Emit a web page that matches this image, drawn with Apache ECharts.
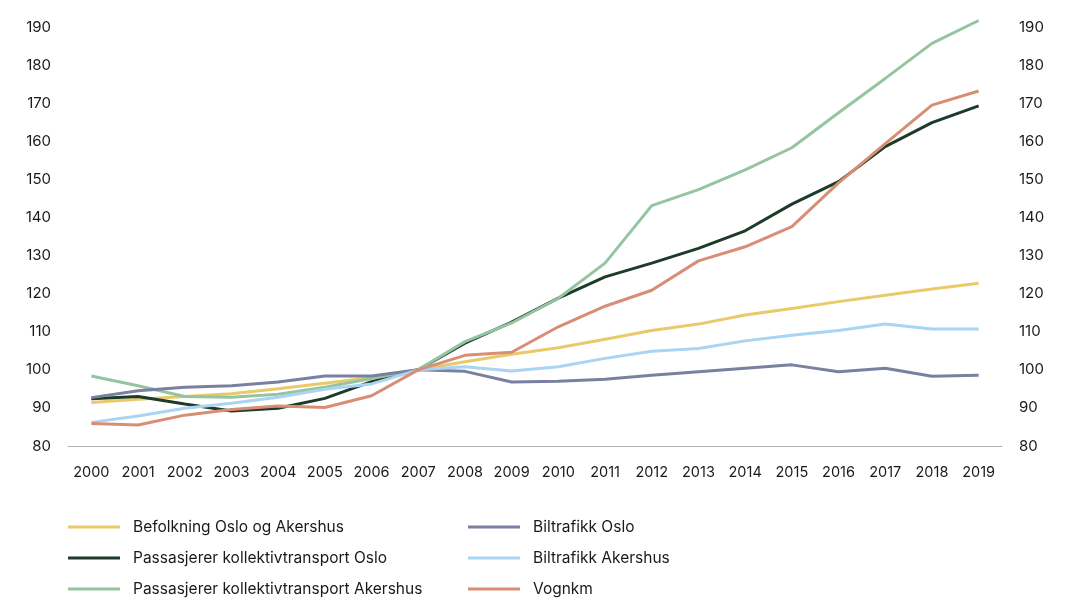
<!DOCTYPE html>
<html>
<head>
<meta charset="utf-8">
<script src="https://cdn.jsdelivr.net/npm/echarts@6/dist/echarts.min.js"></script>
<style>
  html, body { margin: 0; padding: 0; background: #fff; }
  #chart { width: 1080px; height: 608px; }
</style>
</head>
<body>
<div id="chart"></div>
<script>
const years = [
  "2000", "2001", "2002", "2003", "2004", "2005", "2006", "2007", "2008", "2009",
  "2010", "2011", "2012", "2013", "2014", "2015", "2016", "2017", "2018", "2019",
];

// Indeks, 2007 = 100
const befolkning = [
  91.4, 92.3, 93.0, 93.7, 95.0, 96.5, 98.0, 100, 102.1, 104.1,
  105.8, 108.0, 110.3, 112.0, 114.4, 116.1, 117.9, 119.6, 121.2, 122.7,
];
const passOslo = [
  92.4, 93.0, 91.0, 89.2, 89.9, 92.5, 96.9, 100, 107.0, 112.5,
  118.8, 124.4, 128.0, 131.9, 136.5, 143.5, 149.4, 158.6, 164.9, 169.3,
];
const passAkershus = [
  98.4, 95.8, 93.0, 92.8, 93.6, 95.4, 97.7, 100, 107.4, 112.3,
  118.8, 128.0, 143.1, 147.3, 152.5, 158.3, 167.5, 176.5, 185.7, 191.7,
];
const biltrafikkOslo = [
  92.7, 94.5, 95.4, 95.8, 96.8, 98.4, 98.4, 100, 99.6, 96.8,
  97.0, 97.5, 98.6, 99.5, 100.4, 101.3, 99.5, 100.4, 98.3, 98.6,
];
const biltrafikkAkershus = [
  86.2, 87.9, 89.9, 91.2, 92.8, 94.9, 96.3, 100, 100.8, 99.7,
  100.8, 103.0, 104.9, 105.6, 107.6, 109.1, 110.3, 112.0, 110.7, 110.7,
];
const vognkm = [
  85.9, 85.5, 88.1, 89.6, 90.5, 90.1, 93.2, 100, 103.8, 104.6,
  111.3, 116.7, 120.9, 128.6, 132.3, 137.6, 149.1, 159.4, 169.5, 173.2,
];

const names = [
  "Befolkning Oslo og Akershus",
  "Passasjerer kollektivtransport Oslo",
  "Passasjerer kollektivtransport Akershus",
  "Biltrafikk Oslo",
  "Biltrafikk Akershus",
  "Vognkm",
];
const colors = ["#E8CA6A", "#1E3B29", "#94C5A0", "#7A809F", "#AAD4F3", "#D98D74"];
const values = [befolkning, passOslo, passAkershus, biltrafikkOslo, biltrafikkAkershus, vognkm];

const fontFamily = "Inter, 'Noto Sans', sans-serif";
const textColor = "#1a1a1a";

const chart = echarts.init(document.getElementById("chart"));

const valueAxis = (pos) => ({
  type: "value",
  position: pos,
  min: 80,
  max: 190,
  interval: 10,
  axisLine: { show: false },
  axisTick: { show: false },
  splitLine: { show: false },
  axisLabel: { color: textColor, fontSize: 15, fontFamily: fontFamily, margin: 17 },
});

const legendBase = {
  orient: "vertical",
  top: 518,
  padding: 0,
  icon: "rect",
  itemWidth: 52,
  itemHeight: 3,
  itemGap: 13,
  selectedMode: false,
  textStyle: {
    color: textColor,
    fontSize: 15.5,
    fontFamily: fontFamily,
    lineHeight: 18,
    padding: [0, 0, 0, 8],
  },
};

chart.setOption({
  animation: false,
  color: colors,
  grid: { left: 68, right: 78, top: 27, bottom: 162 },
  legend: [
    Object.assign({}, legendBase, { left: 68, data: names.slice(0, 3) }),
    Object.assign({}, legendBase, { left: 468, data: names.slice(3) }),
  ],
  xAxis: {
    type: "category",
    data: years,
    boundaryGap: true,
    axisLine: { lineStyle: { color: "#b3b3b3", width: 1 } },
    axisTick: { show: false },
    axisLabel: { color: textColor, fontSize: 14.5, fontFamily: fontFamily, margin: 19, interval: 0 },
  },
  yAxis: [valueAxis("left"), valueAxis("right")],
  series: names.map((name, i) => ({
    name: name,
    type: "line",
    yAxisIndex: 0,
    data: values[i],
    symbol: "none",
    clip: false,
    lineStyle: { width: 3, color: colors[i] },
    itemStyle: { color: colors[i] },
  })),
});
</script>
</body>
</html>
